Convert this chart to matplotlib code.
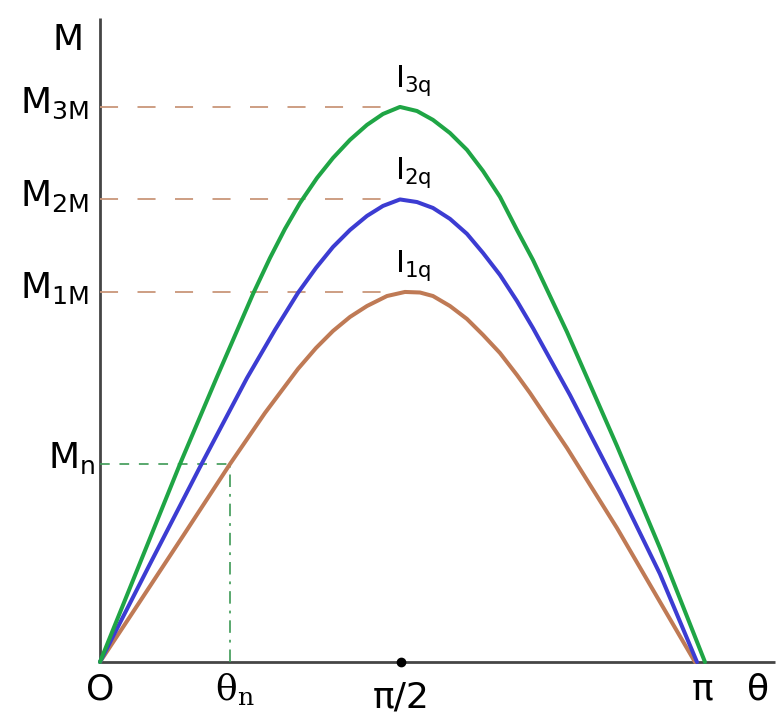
import matplotlib.pyplot as plt

plt.rcParams['mathtext.default'] = 'regular'
plt.rcParams['lines.scale_dashes'] = False

# curves (theta in degrees, M in chart units)
theta_3q = [0, 11.94, 23.88, 34.93, 45.67, 50.75, 55.22, 59.70, 64.78, 69.55, 74.63, 79.70, 84.48, 89.55,
            94.63, 99.40, 104.48, 109.55, 114.33, 119.40, 124.48, 129.25, 139.40, 154.33, 167.16, 180.60]
m_3q = [0, 0.535, 1.070, 1.541, 1.989, 2.184, 2.341, 2.481, 2.616, 2.724, 2.822, 2.903, 2.962, 3.0,
        2.978, 2.930, 2.859, 2.768, 2.654, 2.514, 2.335, 2.173, 1.784, 1.168, 0.616, 0]

theta_2q = [0, 14.93, 29.85, 43.88, 52.24, 59.10, 64.48, 69.55, 74.63, 79.70, 84.48, 89.55,
            94.63, 99.40, 104.48, 109.55, 114.33, 119.40, 124.48, 129.25, 140.30, 155.22, 167.16, 178.21]
m_2q = [0, 0.530, 1.054, 1.535, 1.795, 1.995, 2.130, 2.243, 2.335, 2.411, 2.465, 2.5,
        2.486, 2.454, 2.395, 2.314, 2.211, 2.092, 1.951, 1.805, 1.443, 0.919, 0.476, 0]

theta_1q = [0, 9.85, 24.78, 38.81, 49.25, 59.10, 64.48, 69.55, 74.63, 79.70, 85.67, 91.04,
            95.52, 99.40, 104.48, 109.55, 114.33, 119.40, 124.48, 128.36, 139.40, 154.33, 169.25, 177.61]
m_1q = [0, 0.270, 0.681, 1.070, 1.346, 1.584, 1.697, 1.789, 1.865, 1.924, 1.978, 2.0,
        1.997, 1.978, 1.924, 1.854, 1.768, 1.670, 1.551, 1.454, 1.157, 0.724, 0.260, 0]

M_peaks = [2.0, 2.5, 3.0]
peak_theta = [91.0, 89.6, 89.6]
peak_names = [r'M$_{1M}$', r'M$_{2M}$', r'M$_{3M}$']
curve_names = [r'I$_{1q}$', r'I$_{2q}$', r'I$_{3q}$']
theta_n = 38.81
M_n = 1.07

green = '#1fa545'
blue = '#3c3cd2'
brown = '#bf7a55'
dash_col = '#c9967a'
axis_col = '#454545'

fig = plt.figure(figsize=(7.78, 7.26), dpi=100)
ax = fig.add_axes([0, 0, 1, 1])
ax.set_xlim(-29.85, 202.4)
ax.set_ylim(-0.346, 3.578)
ax.axis('off')

# axes
ax.plot([0, 0], [0, 3.48], color=axis_col, lw=2, solid_capstyle='butt', zorder=1)
ax.plot([0, 201.5], [0, 0], color=axis_col, lw=2, solid_capstyle='butt', zorder=1)

# peak guide lines
for m, t in zip(M_peaks, peak_theta):
    ax.plot([0, t - 3], [m, m], color=dash_col, lw=1.3, dashes=(13, 14), zorder=2)

# M_n / theta_n guides
ax.plot([0, theta_n], [M_n, M_n], color='#3d9a55', lw=1.2, dashes=(7, 7), zorder=2)
ax.plot([theta_n, theta_n], [0, M_n], color='#3d9a55', lw=1.2, dashes=(9, 5, 2, 5), zorder=2)

kw = dict(lw=2.9, solid_joinstyle='round', solid_capstyle='round')
ax.plot(theta_1q, m_1q, color=brown, zorder=3, **kw)
ax.plot(theta_2q, m_2q, color=blue, zorder=4, **kw)
ax.plot(theta_3q, m_3q, color=green, zorder=5, **kw)

ax.plot([90], [0], 'o', color='black', ms=6, zorder=6)

fs = 26
ax.text(-9.5, 3.36, 'M', fontsize=fs, ha='center', va='center')
for m, name in zip(M_peaks, peak_names):
    ax.text(-3.2, m + 0.02, name, fontsize=fs, ha='right', va='center')
ax.text(-1.5, M_n + 0.03, r'M$_n$', fontsize=fs, ha='right', va='center')

for m, name in zip(M_peaks, curve_names):
    ax.text(93.5, m + 0.05, name, fontsize=22, ha='center', va='bottom')

ax.text(0, -0.15, 'O', fontsize=fs, ha='center', va='center')
ax.text(theta_n + 1.5, -0.15, r'$\theta_n$', fontsize=fs, ha='center', va='center', family='DejaVu Serif')
ax.text(90, -0.19, 'π/2', fontsize=fs, ha='center', va='center')
ax.text(180, -0.15, 'π', fontsize=fs, ha='center', va='center')
ax.text(196.5, -0.15, 'θ', fontsize=fs, ha='center', va='center')

fig.savefig('out.png', dpi=100)
